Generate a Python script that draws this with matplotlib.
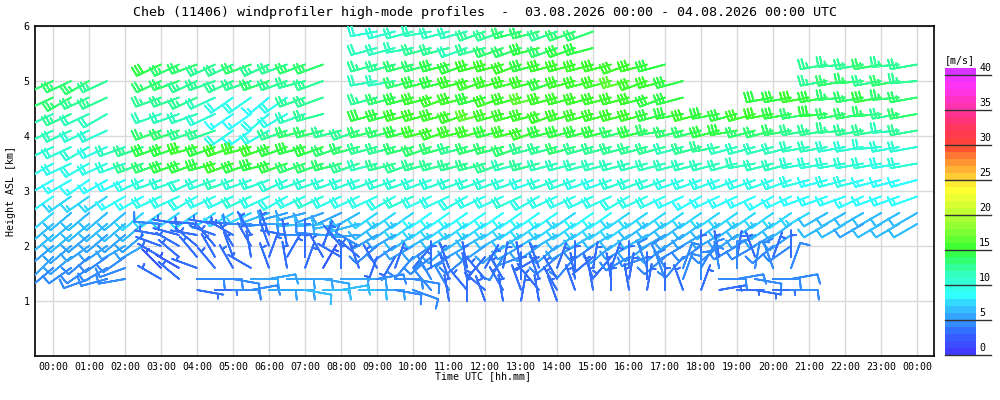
import numpy as np
import matplotlib.pyplot as plt
from matplotlib.colors import LinearSegmentedColormap, ListedColormap, BoundaryNorm

_ = np.nan  # no data

# profile times (hours UTC) and range gates (km ASL)
times = np.arange(0, 24.5, 0.5)
heights = [5.9, 5.6, 5.3, 5.0, 4.7, 4.4, 4.1, 3.8, 3.5, 3.2, 2.9,
           2.6, 2.4, 2.2, 2.0, 1.8, 1.6, 1.4, 1.2, 1.0]

# wind speed [m/s], one row per height, 49 profiles each
s59 = [_]*18 + [10,10,11,11,11,11,12,12,13,13,12,13, 13] + [_]*18
s56 = [_]*18 + [11,11,11,12,12,11,12,13,13,14,13,14, 14] + [_]*18
s53 = [_]*6 + [14,13,13,12,12,13,12,12,13,13] + [_]*2 + [12,12,13,13,14,14,15,15,15,14,15,15, 15,15,15,15,14] + [_]*8 + [12,12,12,13,12,12]
s50 = [13,13,13,12] + [_]*2 + [13,13,12,12,12,12,13,12,12,12] + [_]*2 + [11,11,13,14,14,15,15,15,15,15,14,15, 15,15,16,15,15,14] + [_]*7 + [12,13,13,12,13,12]
s47 = [13,13,12,12] + [_]*2 + [12,12,12,11,9,9,8,9,12,12] + [_]*2 + [12,13,14,15,15,15,14,15,15,16,15,15, 15,15,15,15,14,14] + [_]*4 + [14,14, 15,14,13,13,14,13,13]
s44 = [11,12,11,11] + [_]*2 + [11,11,11,10,8,8,9,9,11,12] + [_]*2 + [14,14,15,15,15,15,16,15,15,15,15,15, 15,15,15,15,14,14,15,14,14,15,15,14, 13,14,13,13,13,12,13]
s41 = [11,11,10,10] + [_]*2 + [13,13,12,12,9,8,9,12,13,13,12,12] + [13,13,14,15,15,15,15,14,15,15,14,14, 14,14,13,14,13,13,13,14,14,13,13,13, 12,12,12,12,12,11,12]
s38 = [10,10,10,9,11,12, 14,14,15,14,15,15,15,14,14,14,13,13, 12,12,13,13,13,12,13,13,13,12,12,13, 12,12,12,12,12,11,12,12,11,11,11,11, 11,11,10,10,10,10,10]
s35 = [9,9,9,9,10,12, 13,14,14,14,15,14,14,14,13,13,13,12, 11,12,12,12,12,12,12,12,11,12,11,11, 11,11,11,11,11,11,11,11,11,11,11,11, 10,10,10,10,10,9,10]
s32 = [8,8,8,8,8,9, 10,10,10,10,11,10,10,10,10,10,10,10, 10,10,10,10,10,10,10,10,10,9,10,10, 9,9,10,10,10,9,9,9,9,9,9,9, 9,8,9,9,8,8,8]
s29 = [8,7,7,7,8,8, 9,9,9,9,9,10,9,9,9,10,9,9, 9,9,10,9,9,9,9,9,10,9,9,9, 9,9,9,9,9,8,8,8,8,8,8,8, 8,8,8,8,8,8,8]
s26 = [7,6,6,6,6,7, 7,7,7,7,7,7,6,5,5,5,5,6, 7,7,7,8,8,8,8,8,8,8,8,7, 8,8,7,7,7,7,7,7,7,7,7,7, 7,6,6,6,6,6,6]
s24 = [6,6,6,6,6,6, 4,3,3,3,3,4,4,5,6,6,6,6, 6,6,7,7,7,7,7,7,7,7,7,7, 7,7,7,6,6,6,6,6,6,6,6,6] + [_] + [6,6,5,6,6,6]
s22 = [6,6,5,5,5,5, 3,3,3,3,3,3,3,3,4,4,5,5, 5,5,6,6,6,6,6,6,6,6,6,6, 6,6,6,6,5,5,5,5,5,5,5,5] + [_]*7
s20 = [5,5,5,5,5,5, 3,3,3,3,3,3,3,3,3,3,3,4, 4,4,5,5,5,5,5,5,5,5,5,5, 4,5,5,5,5,4,4,4,4,4,4,4] + [_]*7
s18 = [5,5,4,4,4,_, 3,3,3,3,3,3,3,3,3,3,3,3, 3,3,4,4,4,4,3,4,4,3,4,4, 3,3,4,4,4,4,3,3,3,3,3,3] + [_]*7
s16 = [4,4,4,4,4,_, 2,2,3,3,3,3,3,3,3,2,3,3, 3,3,3,3,3,3,3,3,3,3,3,3, 3,3,3,4,4,4,4,4,4,4,4,4] + [_]*7
s14 = [_,_,4,4,4,_, 3,3,4,4,4,5,5,5,5,5,5,5, 4,4,4,4,3,3,3,3,3,3,3,3, 3,3,3,3,4,4,4,4,4,4,4,4] + [_]*7
s12 = [_]*8 + [3,3,4,4,5,5,6,6,6,6, 5,4,4,4,4,3,3,3,3,3,3,3, 3,3,3,3,3,3,3,3,3,3,3,4] + [_]*7
s10 = [_]*22 + [3,3,3,3,3,3,3] + [_]*20

# wind direction [deg, from]
d59 = [_]*18 + [260,255,255,260,255,255,250,250,255,255,250,250, 250] + [_]*18
d56 = [_]*18 + [255,255,260,255,255,250,255,250,250,255,250,250, 255] + [_]*18
d53 = [_]*6 + [245,245,250,245,245,250,245,250,250,250] + [_]*2 + [255,255,255,255,255,250,255,255,250,255,255,255, 255,255,250,255,255] + [_]*8 + [260,265,260,260,265,260]
d50 = [245,245,240,245] + [_]*2 + [245,250,245,250,245,250,250,250,255,250] + [_]*2 + [260,260,255,255,255,255,250,255,255,255,250,255, 255,255,255,250,255,255] + [_]*7 + [260,260,265,260,260,265]
d47 = [245,240,245,245] + [_]*2 + [250,250,245,245,235,235,230,235,250,250] + [_]*2 + [255,255,255,255,250,255,255,250,255,255,255,255, 255,255,255,255,250,255] + [_]*4 + [260,260, 260,260,265,260,260,265,260]
d44 = [245,245,245,240] + [_]*2 + [250,250,250,245,235,235,230,240,250,255] + [_]*2 + [255,255,255,255,255,250,255,255,255,255,250,255, 255,255,255,255,255,260,255,260,255,255,260,260, 260,265,260,260,265,260,260]
d41 = [245,245,245,245] + [_]*2 + [250,250,250,250,235,235,240,250,255,255,255,250] + [255,255,255,255,250,255,255,255,255,250,255,255, 255,255,255,255,260,255,255,255,260,255,255,260, 260,260,265,260,260,265,260]
d38 = [245,245,240,245,250,250, 250,250,255,250,250,255,250,250,255,250,250,255, 255,255,255,250,255,255,255,255,250,255,255,255, 255,255,255,255,255,255,255,260,255,255,255,255, 260,260,260,260,265,260,260]
d35 = [240,245,240,245,250,250, 250,250,250,255,250,250,255,250,250,250,255,250, 255,255,250,255,255,255,255,250,255,255,255,255, 255,255,255,255,255,255,255,255,255,260,255,255, 260,260,260,260,260,260,260]
d32 = [240,240,235,240,245,245, 250,250,245,250,250,250,250,245,250,250,250,250, 250,250,250,250,250,250,250,250,250,250,250,250, 250,250,250,250,250,250,250,250,250,250,250,250, 255,255,255,255,255,255,255]
d29 = [235,235,235,235,240,240, 245,245,240,245,245,245,245,240,245,245,245,245, 245,240,245,245,245,240,245,245,245,240,245,245, 245,245,240,245,245,245,240,245,245,245,240,245, 250,250,250,245,250,250,250]
d26 = [230,230,230,230,230,230, 235,235,235,235,240,245,250,255,255,250,245,240, 235,235,235,235,235,235,235,235,235,235,235,235, 235,235,235,235,235,235,235,235,235,235,235,235, 240,240,240,240,240,240,240]
d24 = [230,230,230,230,230,230, 275,280,275,280,275,270,265,270,265,265,260,255, 235,235,235,235,235,235,235,235,235,235,235,235, 235,235,235,235,235,235,235,235,235,235,235,235] + [_] + [240,240,240,240,240,240]
d22 = [230,230,230,230,230,230, 280,285,280,290,300,330,340,280,270,275,270,265, 240,240,235,240,240,235,240,240,235,240,240,235, 240,240,235,240,240,235,240,240,235,240,240,235] + [_]*7
d20 = [230,230,235,235,240,240, 290,300,310,320,330,330,340,350,360,20,320,300, 230,235,240,235,230,240,235,230,240,235,230,240, 235,230,240,235,230,240,235,230,240,240,230,235] + [_]*7
d18 = [225,230,230,235,235,_, 300,310,320,330,340,350,20,30,360,330,300,310, 200,210,220,230,240,230,220,210,250,240,230,220, 230,220,240,250,230,220,360,350,10,340,20,360] + [_]*7
d16 = [230,235,235,240,250,_, 315,300,290,320,330,300,340,350,20,30,360,340, 330,20,40,360,340,350,30,10,350,340,20,360, 10,20,360,340,330,20,30,350,360,10,340,20] + [_]*7
d14 = [_,_,250,255,260,_, 300,310,90,90,100,90,80,90,90,100,90,90, 80,90,100,330,340,350,320,330,360,340,330,350, 340,350,10,360,340,20,360,90,80,100,90,80] + [_]*7
d12 = [_]*8 + [100,90,90,80,90,90,100,90,80,90, 90,100,110,320,330,320,310,330,340,320,330,340, 350,360,350,10,360,340,20,80,90,100,90,90] + [_]*7
d10 = [_]*22 + [350,360,340,350,10,350,340] + [_]*20

speed = np.array([s59, s56, s53, s50, s47, s44, s41, s38, s35, s32, s29,
                  s26, s24, s22, s20, s18, s16, s14, s12, s10], float)
direc = np.array([d59, d56, d53, d50, d47, d44, d41, d38, d35, d32, d29,
                  d26, d24, d22, d20, d18, d16, d14, d12, d10], float)

# colour scale 0..41 m/s in 1 m/s steps
anchors = [(0, '#4433ff'), (3, '#3366ff'), (5, '#3399ff'), (7, '#33ccff'),
           (8.5, '#33ffff'), (11, '#33ffcc'), (13, '#33ff88'), (15, '#33ff33'),
           (18, '#88ff33'), (21, '#ccff33'), (23.5, '#ffff33'), (25, '#ffdd33'),
           (28, '#ff8833'), (30, '#ff4433'), (33, '#ff3366'), (36, '#ff33bb'),
           (39, '#ff33ff'), (41, '#cc33ff')]
smooth = LinearSegmentedColormap.from_list('wp', [(a / 41, c) for a, c in anchors])
cmap = ListedColormap([smooth((k + 0.5) / 41) for k in range(41)])
norm = BoundaryNorm(np.arange(0, 42), cmap.N)

T, H = np.meshgrid(times, heights)
ok = np.isfinite(speed)
rad = np.deg2rad(direc)
u = -speed * np.sin(rad)
v = -speed * np.cos(rad)

mono = 'DejaVu Sans Mono'
fig = plt.figure(figsize=(10, 4), dpi=100)
ax = fig.add_axes([0.035, 0.11, 0.899, 0.825])
ax.barbs(T[ok], H[ok], u[ok], v[ok], speed[ok], cmap=cmap, norm=norm,
         length=6.2, linewidth=1.3, zorder=3,
         barb_increments=dict(half=2.5, full=5, flag=25),
         sizes=dict(emptybarb=0.12, spacing=0.13, height=0.36, width=0.08))

ax.set_xlim(-0.5, 24.47)
ax.set_ylim(0, 6)
ax.set_xticks(range(25))
ax.set_xticklabels(['%02d:00' % (h % 24) for h in range(25)], family=mono, fontsize=7.2)
ax.set_yticks([1, 2, 3, 4, 5, 6])
ax.set_yticklabels(['1', '2', '3', '4', '5', '6'], family=mono, fontsize=7.2)
ax.tick_params(length=0, pad=4)
ax.grid(True, color='#d9d9d9', linewidth=1)
ax.set_axisbelow(True)
for sp in ax.spines.values():
    sp.set_linewidth(1.2)

fig.text(0.485, 0.968, 'Cheb (11406) windprofiler high-mode profiles  -  03.08.2026 00:00 - 04.08.2026 00:00 UTC',
         ha='center', va='center', family=mono, fontsize=9.6)
fig.text(0.483, 0.06, 'Time UTC [hh.mm]', ha='center', va='center', family=mono, fontsize=7.2)
fig.text(0.011, 0.5225, 'Height ASL [km]', ha='center', va='center', rotation=90,
         family=mono, fontsize=7.2)

# colour bar
cax = fig.add_axes([0.945, 45 / 400, 0.031, 287 / 400])
for k in range(41):
    cax.axhspan(k, k + 1, color=cmap(k), lw=0)
cax.set_xlim(0, 1)
cax.set_ylim(0, 41)
cax.axis('off')
for k in range(0, 41, 5):
    cax.plot([0, 1.48], [k, k], color='#333333', lw=1, clip_on=False)
    cax.text(1.1, k + 0.25, str(k), ha='left', va='bottom', family=mono, fontsize=7.2)
fig.text(0.945, 1 - 60 / 400, '[m/s]', ha='left', va='center', family=mono, fontsize=7.2)

fig.savefig('out.png', dpi=100)
